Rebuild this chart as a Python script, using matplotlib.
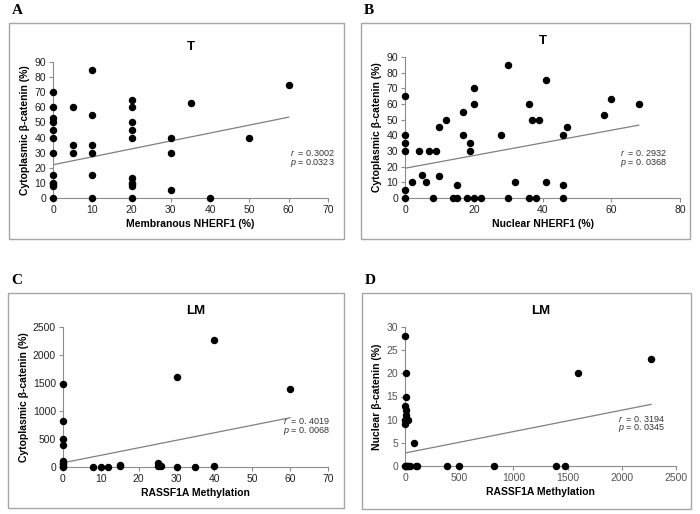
import matplotlib
matplotlib.use("Agg")
import matplotlib.pyplot as plt
from matplotlib.patches import Rectangle

plt.rcParams['font.family'] = ['Liberation Sans', 'DejaVu Sans']
plt.rcParams['mathtext.fontset'] = 'custom'
plt.rcParams['mathtext.it'] = 'Liberation Sans:italic'
plt.rcParams['mathtext.rm'] = 'Liberation Sans'

# panel A: membranous NHERF1 vs cytoplasmic beta-catenin (T)
a_x = [0]*12 + [5]*3 + [10]*6 + [20]*10 + [30]*3 + [35, 40, 50, 60]
a_y = [70, 60, 53, 50, 45, 40, 30, 15, 10, 9, 8, 0,
       60, 35, 30,
       85, 55, 35, 30, 15, 0,
       65, 60, 50, 45, 40, 13, 10, 9, 8, 0,
       40, 30, 5,
       63, 0, 40, 75]
a_fit = ([0, 60], [22, 53.5])

# panel B: nuclear NHERF1 vs cytoplasmic beta-catenin (T)
b_x = [0, 0, 0, 0, 0, 0, 2, 4, 5, 6, 7, 8, 9, 10, 10, 12, 14, 15, 15,
       17, 17, 18, 19, 19, 20, 20, 20, 22, 28, 30, 30, 32, 36, 36, 37,
       38, 39, 41, 41, 46, 46, 46, 47, 58, 60, 68]
b_y = [65, 40, 35, 30, 5, 0, 10, 30, 15, 10, 30, 0, 30, 45, 14, 50, 0, 8, 0,
       55, 40, 0, 35, 30, 70, 60, 0, 0, 40, 85, 0, 10, 60, 0, 50,
       0, 50, 75, 10, 40, 8, 0, 45, 53, 63, 60]
b_fit = ([0, 68], [19, 46.5])

# panel C: RASSF1A methylation vs cytoplasmic beta-catenin (LM)
c_x = [0]*9 + [8, 10, 12, 15, 15, 25, 25, 26, 30, 30, 35, 40, 40, 60]
c_y = [1480, 820, 500, 390, 110, 80, 50, 20, 0,
       0, 0, 0, 30, 10, 80, 20, 20, 1600, 0, 0, 2270, 20, 1390]
c_fit = ([0, 60], [75, 880])

# panel D: RASSF1A methylation vs nuclear beta-catenin (LM)
d_x = [0, 0, 0, 0, 0, 5, 5, 10, 10, 12, 14, 10, 20, 20, 30, 30, 80,
       50, 100, 110, 390, 500, 820, 1390, 1480, 1600, 2270]
d_y = [28, 13, 10, 9, 0, 15, 10, 20, 12, 11, 10, 0, 10, 0, 10, 0, 5,
       0, 0, 0, 0, 0, 0, 0, 0, 20, 23]
d_fit = ([0, 2270], [2.8, 13.3])

panels = [
    dict(letter='A', title='T', x=a_x, y=a_y, fit=a_fit,
         xlabel='Membranous NHERF1 (%)', ylabel='Cytoplasmic β-catenin (%)',
         xlim=70, xstep=10, ylim=90, ystep=10, r='0.3002', p='0.0323',
         box=(9, 23, 344, 239), ax=(53, 62, 328, 198), txt=(0.86, 0.33),
         ticklab='#222222'),
    dict(letter='B', title='T', x=b_x, y=b_y, fit=b_fit,
         xlabel='Nuclear NHERF1 (%)', ylabel='Cytoplasmic β-catenin (%)',
         xlim=80, xstep=20, ylim=90, ystep=10, r='0. 2932', p='0. 0368',
         box=(361, 23, 690, 239), ax=(405, 57, 680, 198), txt=(0.78, 0.32),
         ticklab='#222222'),
    dict(letter='C', title='LM', x=c_x, y=c_y, fit=c_fit,
         xlabel='RASSF1A Methylation', ylabel='Cytoplasmic β-catenin (%)',
         xlim=70, xstep=10, ylim=2500, ystep=500, r='0. 4019', p='0. 0068',
         box=(8, 293, 344, 508), ax=(63, 327, 328, 467), txt=(0.83, 0.33),
         ticklab='#222222'),
    dict(letter='D', title='LM', x=d_x, y=d_y, fit=d_fit,
         xlabel='RASSF1A Methylation', ylabel='Nuclear β-catenin (%)',
         xlim=2500, xstep=500, ylim=30, ystep=5, r='0. 3194', p='0. 0345',
         box=(362, 293, 691, 509), ax=(405, 327, 676, 466), txt=(0.785, 0.34),
         ticklab='#555555'),
]

W, H = 700, 514
fig = plt.figure(figsize=(7, 5.14), dpi=100)
gray = '#8c8c8c'

for pn in panels:
    # outer frame of each panel
    x0, y0, x1, y1 = pn['box']
    fig.patches.append(Rectangle((x0/W, 1 - y1/H), (x1-x0)/W, (y1-y0)/H,
                                 transform=fig.transFigure, fill=False,
                                 edgecolor='#a6a6a6', linewidth=1.0))
    fig.text(x0/W + 0.004, 1 - (y0 - 13)/H, pn['letter'], family='Liberation Serif',
             fontweight='bold', fontsize=11, va='center', ha='left')

    l, t, r, b = pn['ax']
    ax = fig.add_axes([l/W, 1 - b/H, (r-l)/W, (b-t)/H])
    ax.scatter(pn['x'], pn['y'], s=19, color='black', zorder=3, clip_on=False)
    ax.plot(pn['fit'][0], pn['fit'][1], color='#808080', linewidth=0.9, zorder=2)

    ax.set_xlim(0, pn['xlim'])
    ax.set_ylim(0, pn['ylim'])
    ax.set_xticks(range(0, pn['xlim'] + 1, pn['xstep']))
    ax.set_yticks(range(0, pn['ylim'] + 1, pn['ystep']))
    for s in ['top', 'right']:
        ax.spines[s].set_visible(False)
    for s in ['left', 'bottom']:
        ax.spines[s].set_color(gray)
        ax.spines[s].set_linewidth(0.8)
    ax.tick_params(axis='both', colors=gray, labelcolor=pn['ticklab'], labelsize=7.5,
                   length=3, width=0.8, pad=2)
    ax.set_xlabel(pn['xlabel'], fontsize=7.5, fontweight='bold', labelpad=3)
    ax.set_ylabel(pn['ylabel'], fontsize=7.5, fontweight='bold', labelpad=3)
    ax.set_title(pn['title'], fontsize=9.5, fontweight='bold', pad=9)

    tx, ty = pn['txt']
    ax.text(tx, ty, r'$r$  = ' + pn['r'], transform=ax.transAxes, fontsize=6.5,
            color='#333333', ha='left', va='center')
    ax.text(tx, ty - 0.07, r'$p$ = ' + pn['p'], transform=ax.transAxes, fontsize=6.5,
            color='#333333', ha='left', va='center')

fig.savefig('out.png', dpi=100)
